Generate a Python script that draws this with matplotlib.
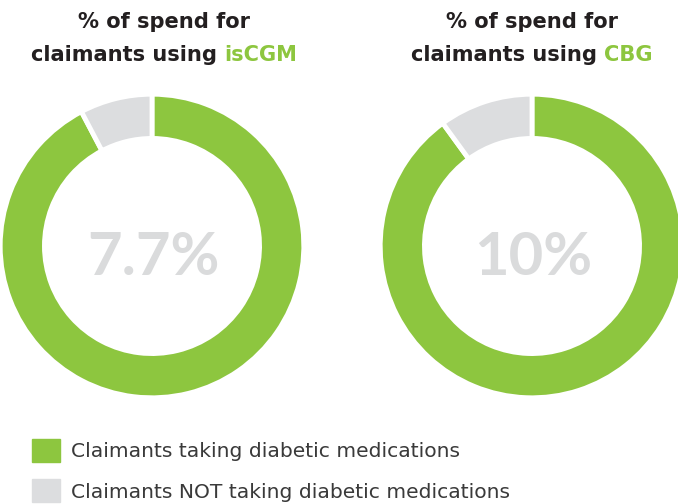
import matplotlib.pyplot as plt
from matplotlib.patches import Patch

# data
groups = ["isCGM", "CBG"]
not_taking_pct = [7.7, 10.0]
center_labels = ["7.7%", "10%"]
legend_labels = ["Claimants taking diabetic medications",
                 "Claimants NOT taking diabetic medications"]

green = "#8DC63F"
grey = "#DCDDDF"
dark = "#231F20"
center_col = "#DADBDC"

W, H = 678, 504
fig = plt.figure(figsize=(W / 100, H / 100), dpi=100)
plt.rcParams['font.family'] = ['DejaVu Sans']

centers_x = [152, 532]
title_x = [164, 532]
cy, r = 246, 150

renderer = fig.canvas.get_renderer()


def text_width(s, size, weight="normal"):
    t = fig.text(0, 0, s, fontsize=size, fontweight=weight)
    w = t.get_window_extent(renderer).width
    t.remove()
    return w


# title size fitted to the width of the second line in the reference (~267px)
fs = 10 * 267 / text_width("claimants using isCGM", 10, "bold")
# legend size fitted to ~390px for the first label
lfs = 10 * 390 / text_width(legend_labels[0], 10)

for i, g in enumerate(groups):
    cx = centers_x[i]
    ax = fig.add_axes([(cx - r) / W, (H - cy - r) / H, 2 * r / W, 2 * r / H])
    vals = [100 - not_taking_pct[i], not_taking_pct[i]]
    ax.pie(vals, colors=[green, grey], startangle=90, counterclock=False,
           radius=1.012, wedgeprops=dict(width=0.295, edgecolor="white", linewidth=3.5))
    ax.set_xlim(-1, 1)
    ax.set_ylim(-1, 1)
    ax.set_aspect("equal")
    ax.axis("off")
    ax.text(0.01, -0.08, center_labels[i], ha="center", va="center",
            fontsize=43, fontweight="bold", color=center_col,
            family=["Lato", "DejaVu Sans"])

    tx = title_x[i]
    fig.text(tx / W, 1 - 22 / H, "% of spend for", ha="center", va="center",
             fontsize=fs, fontweight="bold", color=dark)
    w1 = text_width("claimants using ", fs, "bold")
    w2 = text_width(g, fs, "bold")
    x0 = tx - (w1 + w2) / 2
    fig.text(x0 / W, 1 - 55 / H, "claimants using ", ha="left", va="center",
             fontsize=fs, fontweight="bold", color=dark)
    fig.text((x0 + w1) / W, 1 - 55 / H, g, ha="left", va="center",
             fontsize=fs, fontweight="bold", color=green)

# legend square ~28px = 20pt
hl = 20 / lfs
handles = [Patch(color=green), Patch(color=grey)]
fig.legend(handles, legend_labels, loc="upper left",
           bbox_to_anchor=(32 / W, 1 - 439 / H), frameon=False,
           fontsize=lfs, labelcolor="#3a3a3a", handlelength=hl, handleheight=hl,
           handletextpad=0.55, labelspacing=0.85, borderaxespad=0, borderpad=0)

fig.savefig("out.png", dpi=100)
